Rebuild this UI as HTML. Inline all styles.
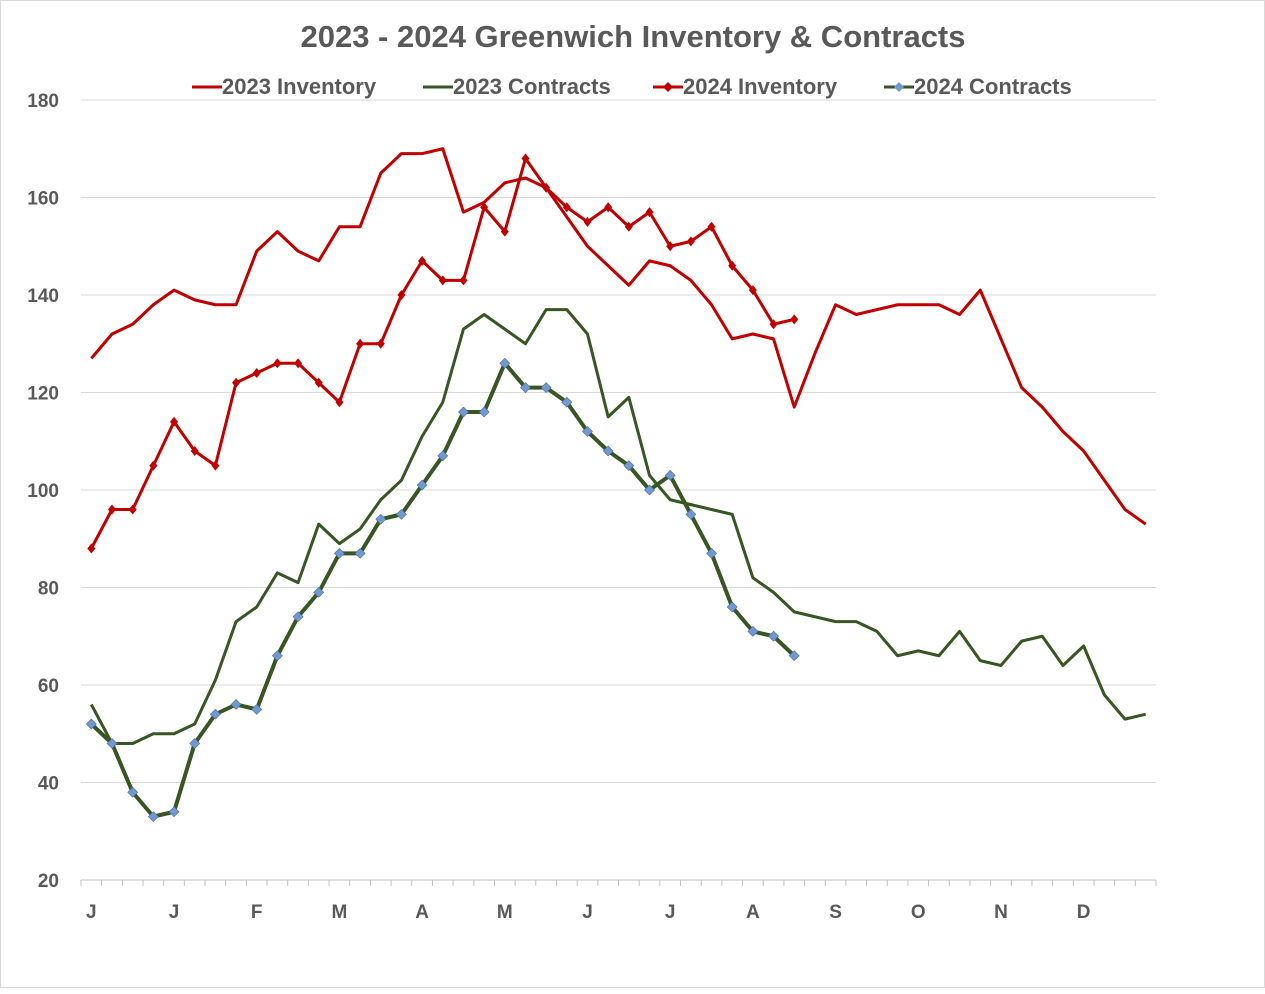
<!DOCTYPE html>
<html><head><meta charset="utf-8"><style>
body{margin:0;background:#fff;font-family:"Liberation Sans",sans-serif;}
#wrap{position:relative;width:1265px;height:988px;background:#fff;border:1px solid #d9d9d9;box-sizing:border-box;}
</style></head><body>
<div id="wrap">
<svg id="chart" width="1265" height="988"></svg>
</div>
<script>
const monthLabels=["J","J","F","M","A","M","J","J","A","S","O","N","D"];
const yTicks=[20,40,60,80,100,120,140,160,180];
const inv2023=[127,132,134,138,141,139,138,138,149,153,149,147,154,154,165,169,169,170,157,159,163,164,162,156,150,146,142,147,146,143,138,131,132,131,117,128,138,136,137,138,138,138,136,141,131,121,117,112,108,102,96,93];
const con2023=[56,48,48,50,50,52,61,73,76,83,81,93,89,92,98,102,111,118,133,136,133,130,137,137,132,115,119,103,98,97,96,95,82,79,75,74,73,73,71,66,67,66,71,65,64,69,70,64,68,58,53,54];
const inv2024=[88,96,96,105,114,108,105,122,124,126,126,122,118,130,130,140,147,143,143,158,153,168,162,158,155,158,154,157,150,151,154,146,141,134,135];
const con2024=[52,48,38,33,34,48,54,56,55,66,74,79,87,87,94,95,101,107,116,116,126,121,121,118,112,108,105,100,103,95,87,76,71,70,66];
const N=52, X0=80, X1=1155, Y0=879, Y1=99;
const step=(X1-X0)/N;
const xs=i=>X0+step*(i+0.5);
const ys=v=>Y0-(v-20)*(Y0-Y1)/160;
const svg=document.getElementById('chart');
const NS='http://www.w3.org/2000/svg';
function mk(t,a){const e=document.createElementNS(NS,t);for(const k in a)e.setAttribute(k,a[k]);svg.appendChild(e);return e;}
const GREY='#595959';
// gridlines and y labels
yTicks.forEach(v=>{
 const y=ys(v);
 if(v>20){const g=mk('line',{x1:X0,x2:X1,y1:y,y2:y,stroke:'#d9d9d9','stroke-width':1});
 
 }
 const t=mk('text',{x:58,y:y+7,'text-anchor':'end','font-size':19,'font-weight':'bold',fill:GREY});
 t.textContent=v;
 
 
});
const ax=mk('line',{x1:X0,x2:X1,y1:Y0,y2:Y0,stroke:'#bfbfbf','stroke-width':1});


for(let i=0;i<=N;i++){const x=X0+step*i;const tk=mk('line',{x1:x,x2:x,y1:Y0,y2:Y0+6,stroke:'#bfbfbf'});
 
 }
monthLabels.forEach((m,j)=>{
 const t=mk('text',{x:xs(j*4),y:917,'text-anchor':'middle','font-size':19,'font-weight':'bold',fill:GREY});
 t.textContent=m;
 
 
});
function line(data,color,w,name){
 const p=mk('polyline',{points:data.map((v,i)=>xs(i)+','+ys(v)).join(' '),fill:'none',stroke:color,'stroke-width':w,'stroke-linejoin':'round'});
 
 
}
line(con2023,'#375623',3,'series-2023-contracts');
line(inv2023,'#c00000',3,'series-2023-inventory');
line(inv2024,'#c00000',3,'series-2024-inventory');
inv2024.forEach((v,i)=>{const x=xs(i),y=ys(v);
 const d=mk('polygon',{points:`${x},${y-5} ${x+4},${y} ${x},${y+5} ${x-4},${y}`,fill:'#c00000'});
 
 });
line(con2024,'#375623',4,'series-2024-contracts');
con2024.forEach((v,i)=>{const x=xs(i),y=ys(v);
 const d=mk('polygon',{points:`${x},${y-5} ${x+5},${y} ${x},${y+5} ${x-5},${y}`,fill:'#7199cf',stroke:'#4a6fa5','stroke-width':0.6});
 
 });
// title
const ti=mk('text',{x:632,y:46,'text-anchor':'middle','font-size':31,'font-weight':'bold',fill:GREY});
ti.textContent='2023 -  2024 Greenwich Inventory & Contracts';


// legend
const leg=[[191,'2023 Inventory','#c00000',null],[422,'2023 Contracts','#375623',null],[652,'2024 Inventory','#c00000','#c00000'],[883,'2024 Contracts','#375623','#7199cf']];
leg.forEach(([x,lab,c,mc])=>{
 const l=mk('line',{x1:x,x2:x+30,y1:86,y2:86,stroke:c,'stroke-width':3});
 
 
 if(mc){const d=mk('polygon',{points:`${x+15},81 ${x+20},86 ${x+15},91 ${x+10},86`,fill:mc});
 
 }
 const t=mk('text',{x:x+30,y:93,'font-size':22,'font-weight':'bold',fill:GREY});
 t.textContent=lab;
 
 
});
</script>
</body></html>
